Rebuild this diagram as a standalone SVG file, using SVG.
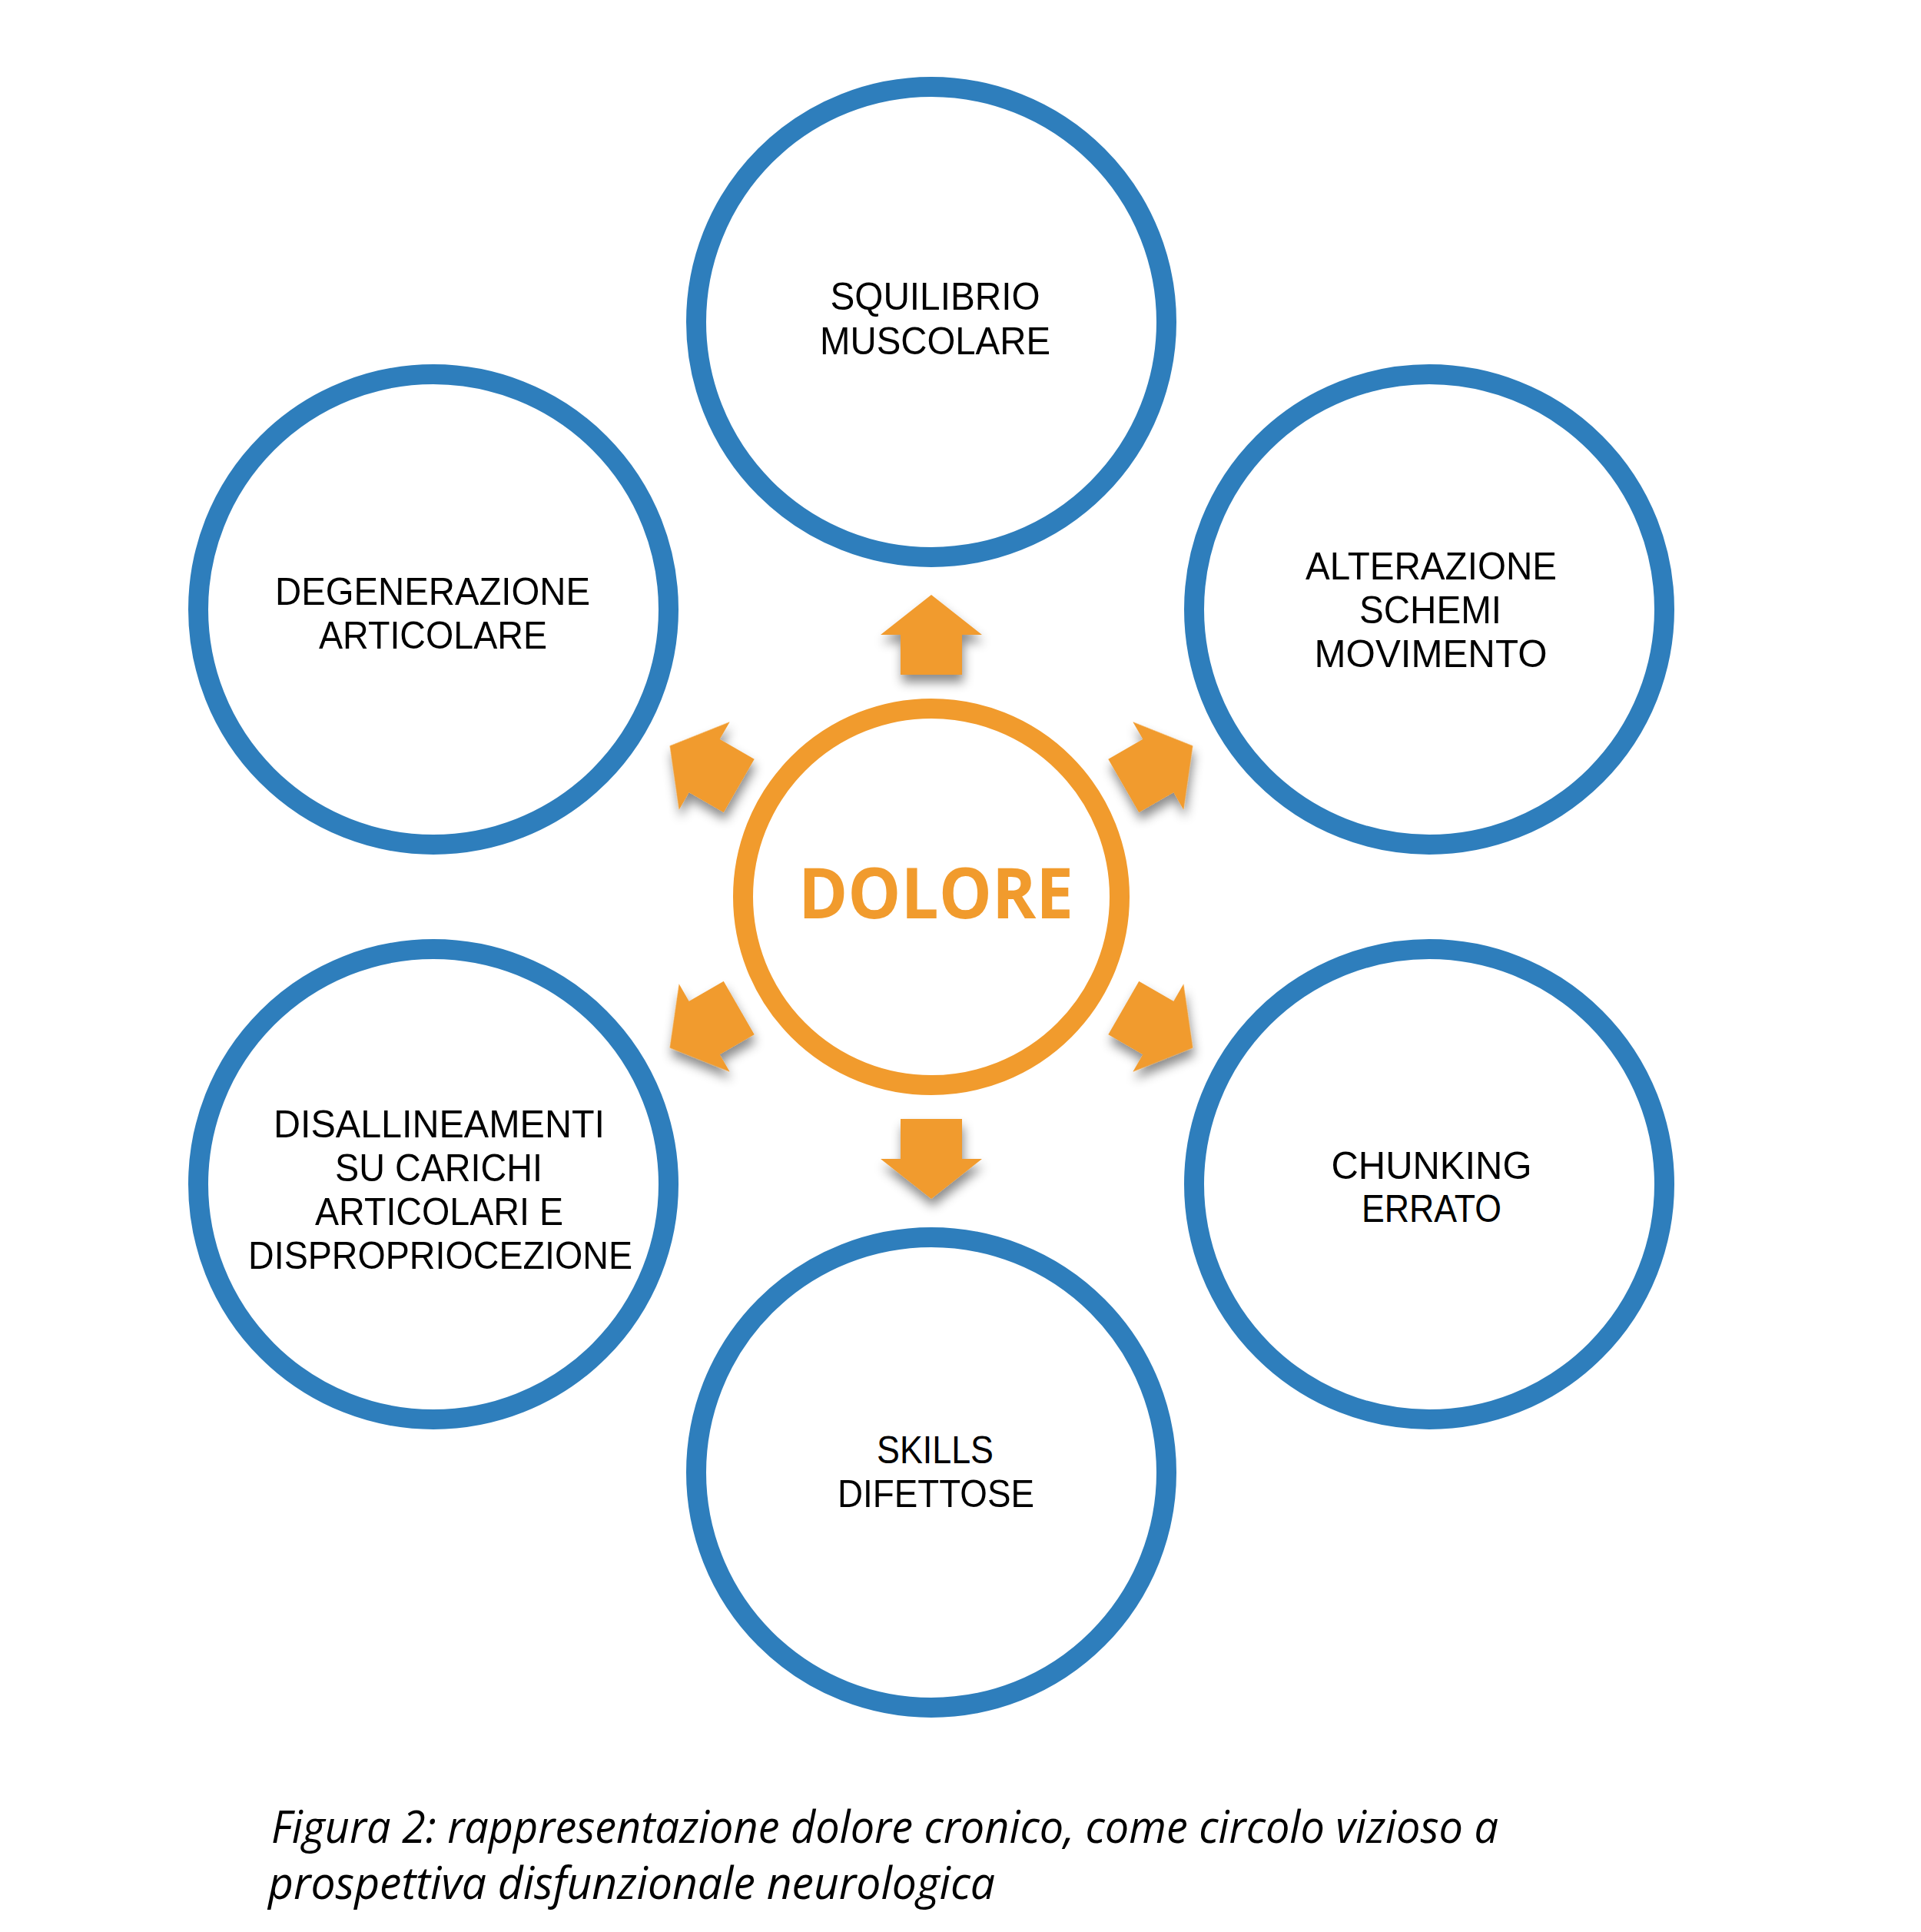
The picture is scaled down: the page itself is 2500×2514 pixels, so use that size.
<svg xmlns="http://www.w3.org/2000/svg" xmlns:xlink="http://www.w3.org/1999/xlink" width="2500" height="2514" viewBox="0 0 2500 2514">
<defs>
<style>
.ring{fill:#fff;stroke:#2E7EBC;stroke-width:26}
.core{fill:#fff;stroke:#F19B2D;stroke-width:26}
.lbl{font-family:"Liberation Sans","Open Sans",sans-serif;font-size:50.5px;fill:#000;text-anchor:middle}
.big{font-family:"Open Sans","Noto Sans","Liberation Sans",sans-serif;font-size:92px;font-weight:bold;fill:#F19B2D;text-anchor:middle}
.cap{font-family:"Open Sans","Noto Sans","Liberation Sans",sans-serif;font-size:58px;font-style:italic;fill:#000}
.arr{fill:#F19B2D}
</style>
<filter id="sh" x="-20%" y="-20%" width="140%" height="140%">
<feDropShadow dx="2" dy="10" stdDeviation="7" flood-color="#000" flood-opacity="0.45"/>
</filter>
<polygon id="arrow" class="arr" points="1212,774 1278,826 1252,826 1252,878 1172,878 1172,826 1146,826"/>
</defs>
<rect width="2500" height="2514" fill="#fff"/>

<g id="node-squilibrio">
<circle class="ring" cx="1212" cy="419" r="306"/>
<text class="lbl" x="1217" y="403" textLength="273" lengthAdjust="spacingAndGlyphs">SQUILIBRIO</text>
<text class="lbl" x="1217" y="461" textLength="300" lengthAdjust="spacingAndGlyphs">MUSCOLARE</text>
</g>
<g id="node-alterazione">
<circle class="ring" cx="1860" cy="793" r="306"/>
<text class="lbl" x="1862.5" y="754" textLength="327" lengthAdjust="spacingAndGlyphs">ALTERAZIONE</text>
<text class="lbl" x="1861.5" y="811" textLength="185" lengthAdjust="spacingAndGlyphs">SCHEMI</text>
<text class="lbl" x="1862" y="868" textLength="303" lengthAdjust="spacingAndGlyphs">MOVIMENTO</text>
</g>
<g id="node-chunking">
<circle class="ring" cx="1860" cy="1541" r="306"/>
<text class="lbl" x="1863" y="1534" textLength="261" lengthAdjust="spacingAndGlyphs">CHUNKING</text>
<text class="lbl" x="1863" y="1590" textLength="182" lengthAdjust="spacingAndGlyphs">ERRATO</text>
</g>
<g id="node-skills">
<circle class="ring" cx="1212" cy="1916" r="306"/>
<text class="lbl" x="1217" y="1904" textLength="152" lengthAdjust="spacingAndGlyphs">SKILLS</text>
<text class="lbl" x="1218" y="1961" textLength="256" lengthAdjust="spacingAndGlyphs">DIFETTOSE</text>
</g>
<g id="node-disallineamenti">
<circle class="ring" cx="564" cy="1541" r="306"/>
<text class="lbl" x="571.5" y="1480" textLength="431" lengthAdjust="spacingAndGlyphs">DISALLINEAMENTI</text>
<text class="lbl" x="571" y="1537" textLength="270" lengthAdjust="spacingAndGlyphs">SU CARICHI</text>
<text class="lbl" x="571.5" y="1594" textLength="323" lengthAdjust="spacingAndGlyphs">ARTICOLARI E</text>
<text class="lbl" x="573" y="1651" textLength="500" lengthAdjust="spacingAndGlyphs">DISPROPRIOCEZIONE</text>
</g>
<g id="node-degenerazione">
<circle class="ring" cx="564" cy="793" r="306"/>
<text class="lbl" x="563" y="786.5" textLength="410" lengthAdjust="spacingAndGlyphs">DEGENERAZIONE</text>
<text class="lbl" x="563.5" y="844" textLength="297" lengthAdjust="spacingAndGlyphs">ARTICOLARE</text>
</g>

<g id="node-dolore">
<circle class="core" cx="1212" cy="1167" r="245"/>
<text class="big" x="1218" y="1195" textLength="358" lengthAdjust="spacingAndGlyphs">DOLORE</text>
</g>

<g id="connectors" filter="url(#sh)">
<use xlink:href="#arrow"/>
<use xlink:href="#arrow" transform="rotate(60 1212 1167)"/>
<use xlink:href="#arrow" transform="rotate(120 1212 1167)"/>
<use xlink:href="#arrow" transform="rotate(180 1212 1167)"/>
<use xlink:href="#arrow" transform="rotate(240 1212 1167)"/>
<use xlink:href="#arrow" transform="rotate(300 1212 1167)"/>
</g>

<g id="caption">
<text class="cap" x="353" y="2398" textLength="1597" lengthAdjust="spacingAndGlyphs">Figura 2: rappresentazione dolore cronico, come circolo vizioso a</text>
<text class="cap" x="349" y="2471" textLength="946" lengthAdjust="spacingAndGlyphs">prospettiva disfunzionale neurologica</text>
</g>
</svg>
